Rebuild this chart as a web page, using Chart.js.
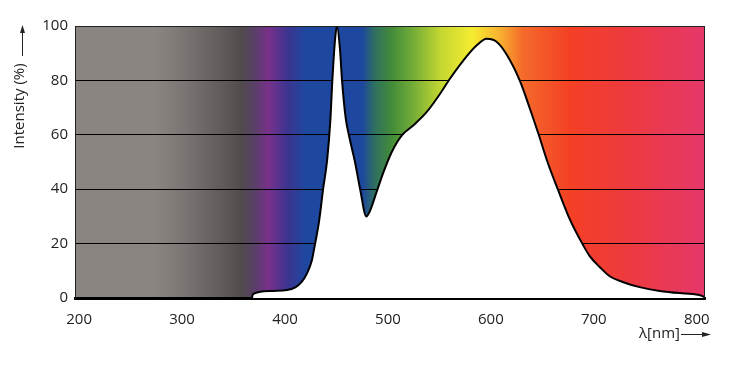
<!DOCTYPE html>
<html>
<head>
<meta charset="utf-8">
<script src="https://cdn.jsdelivr.net/npm/chart.js@4.4.0/dist/chart.umd.min.js"></script>
<style>
  html, body { margin: 0; padding: 0; background: #fff; }
  #wrap { width: 738px; height: 365px; }
</style>
</head>
<body>
<div id="wrap"><canvas id="spectrumChart" width="738" height="365"></canvas></div>
<script>
// wavelength (nm) and relative intensity (%)
const wavelengths = [196, 368, 368.5, 372, 376, 388, 402, 410, 416, 421, 426, 429, 433, 437, 441, 444, 446, 448.6, 450.5, 453.4, 455.4, 459, 462, 468, 473, 479, 482.5, 489, 495.4, 503.6, 513.3, 524.5, 537.5, 550.5, 560, 573, 586, 596, 605.5, 615, 628, 638, 646.5, 655, 665, 676.6, 686.3, 696, 705.7, 715.4, 728, 744.5, 764, 783.4, 796, 805.6, 808];
const intensity   = [0,   0,   1.2,   1.9, 2.3, 2.6, 2.9, 3.9, 5.8, 8.8, 13.7, 19.5, 28, 40,  51,  65,  80,  95,    100,   91.5,  80,    66,  60,  50,  40,  30,  32,    39,  46,    53.6,  59.7,  63.4,  68.3,  75,    80.5, 87.2, 92.8, 95.3, 94.2, 89.7, 80, 69.5, 60,   50,  40,  29,    21.7,  15.4, 11.4,  8,     5.9, 4,     2.6, 1.8,   1.5, 0.7,   0];
const xTicks = [200, 300, 400, 500, 600, 700, 800];
const yTicks = [0, 20, 40, 60, 80, 100];

const FONT = "'Open Sans', 'DejaVu Sans', sans-serif";
const TEXT = '#222';

// spectrum colours behind the curve, by wavelength
const spectrumStops = [
  [196, '#8a8581'], [274, '#8a8581'], [303, '#7a7572'], [342, '#5e5858'],
  [358, '#514b4c'], [371, '#5a3f6a'], [384, '#78308a'], [403, '#3a3590'],
  [420, '#1e479f'], [475, '#1e479f'], [487, '#2e7060'], [504, '#448c38'],
  [521, '#6aa838'], [551, '#c4d632'], [582, '#f5ec30'], [609, '#f8b030'],
  [631, '#f46a2a'], [677, '#f44025'], [728, '#ee3a3c'], [808, '#e5386a']
];

const spectrumBackground = {
  id: 'spectrumBackground',
  beforeDraw(chart) {
    const { ctx, chartArea: a, scales: { x } } = chart;
    const g = ctx.createLinearGradient(a.left, 0, a.right, 0);
    spectrumStops.forEach(([nm, c]) => {
      const f = (x.getPixelForValue(nm) - a.left) / (a.right - a.left);
      g.addColorStop(Math.min(1, Math.max(0, f)), c);
    });
    ctx.save();
    ctx.fillStyle = g;
    ctx.fillRect(a.left, a.top, a.right - a.left, a.bottom - a.top);
    ctx.restore();
  }
};

const frameAndTitles = {
  id: 'frameAndTitles',
  afterDraw(chart) {
    const { ctx, chartArea: a } = chart;
    ctx.save();
    // thin frame top/right/left
    ctx.strokeStyle = '#222';
    ctx.lineWidth = 1;
    ctx.beginPath();
    ctx.moveTo(a.left + 0.5, a.bottom);
    ctx.lineTo(a.left + 0.5, a.top + 0.5);
    ctx.lineTo(a.right - 0.5, a.top + 0.5);
    ctx.lineTo(a.right - 0.5, a.bottom);
    ctx.stroke();

    ctx.fillStyle = TEXT;
    ctx.strokeStyle = TEXT;
    ctx.font = '15px ' + FONT;

    // y title, rotated, with an upward arrow
    ctx.save();
    ctx.translate(20, 106);
    ctx.rotate(-Math.PI / 2);
    ctx.textAlign = 'center';
    ctx.textBaseline = 'middle';
    ctx.fillText('Intensity (%)', 0, 0);
    ctx.restore();
    ctx.beginPath();
    ctx.moveTo(22.5, 56);
    ctx.lineTo(22.5, 30);
    ctx.stroke();
    ctx.beginPath();
    ctx.moveTo(22.5, 25);
    ctx.lineTo(20, 33);
    ctx.lineTo(25, 33);
    ctx.closePath();
    ctx.fill();

    // x title with a rightward arrow
    ctx.textAlign = 'right';
    ctx.textBaseline = 'middle';
    ctx.fillText('λ[nm]', 680, 334);
    ctx.beginPath();
    ctx.moveTo(681, 334.5);
    ctx.lineTo(704, 334.5);
    ctx.stroke();
    ctx.beginPath();
    ctx.moveTo(711, 334.5);
    ctx.lineTo(702, 332);
    ctx.lineTo(702, 337);
    ctx.closePath();
    ctx.fill();
    ctx.restore();
  }
};

new Chart(document.getElementById('spectrumChart'), {
  type: 'line',
  data: {
    datasets: [{
      data: wavelengths.map((w, i) => ({ x: w, y: intensity[i] })),
      borderColor: '#000',
      borderWidth: 2,
      backgroundColor: '#fff',
      fill: 'origin',
      pointRadius: 0,
      cubicInterpolationMode: 'monotone'
    }]
  },
  options: {
    responsive: false,
    animation: false,
    layout: { padding: { left: 0, top: 26, right: 33, bottom: 0 } },
    plugins: { legend: { display: false }, tooltip: { enabled: false } },
    scales: {
      x: {
        type: 'linear',
        min: 196,
        max: 808,
        afterFit: s => { s.height = 67; },
        afterBuildTicks: s => { s.ticks = xTicks.map(v => ({ value: v })); },
        grid: { display: false },
        border: { display: true, color: '#000', width: 3 },
        ticks: { color: TEXT, font: { family: FONT, size: 15 }, padding: 5, maxRotation: 0 }
      },
      y: {
        min: 0,
        max: 100,
        afterFit: s => { s.width = 75; },
        afterBuildTicks: s => { s.ticks = yTicks.map(v => ({ value: v })); },
        grid: { color: '#000', lineWidth: 1, drawTicks: false },
        border: { display: true, color: '#222', width: 1 },
        ticks: { color: TEXT, font: { family: FONT, size: 15 }, padding: 7 }
      }
    }
  },
  plugins: [spectrumBackground, frameAndTitles]
});
</script>
</body>
</html>
